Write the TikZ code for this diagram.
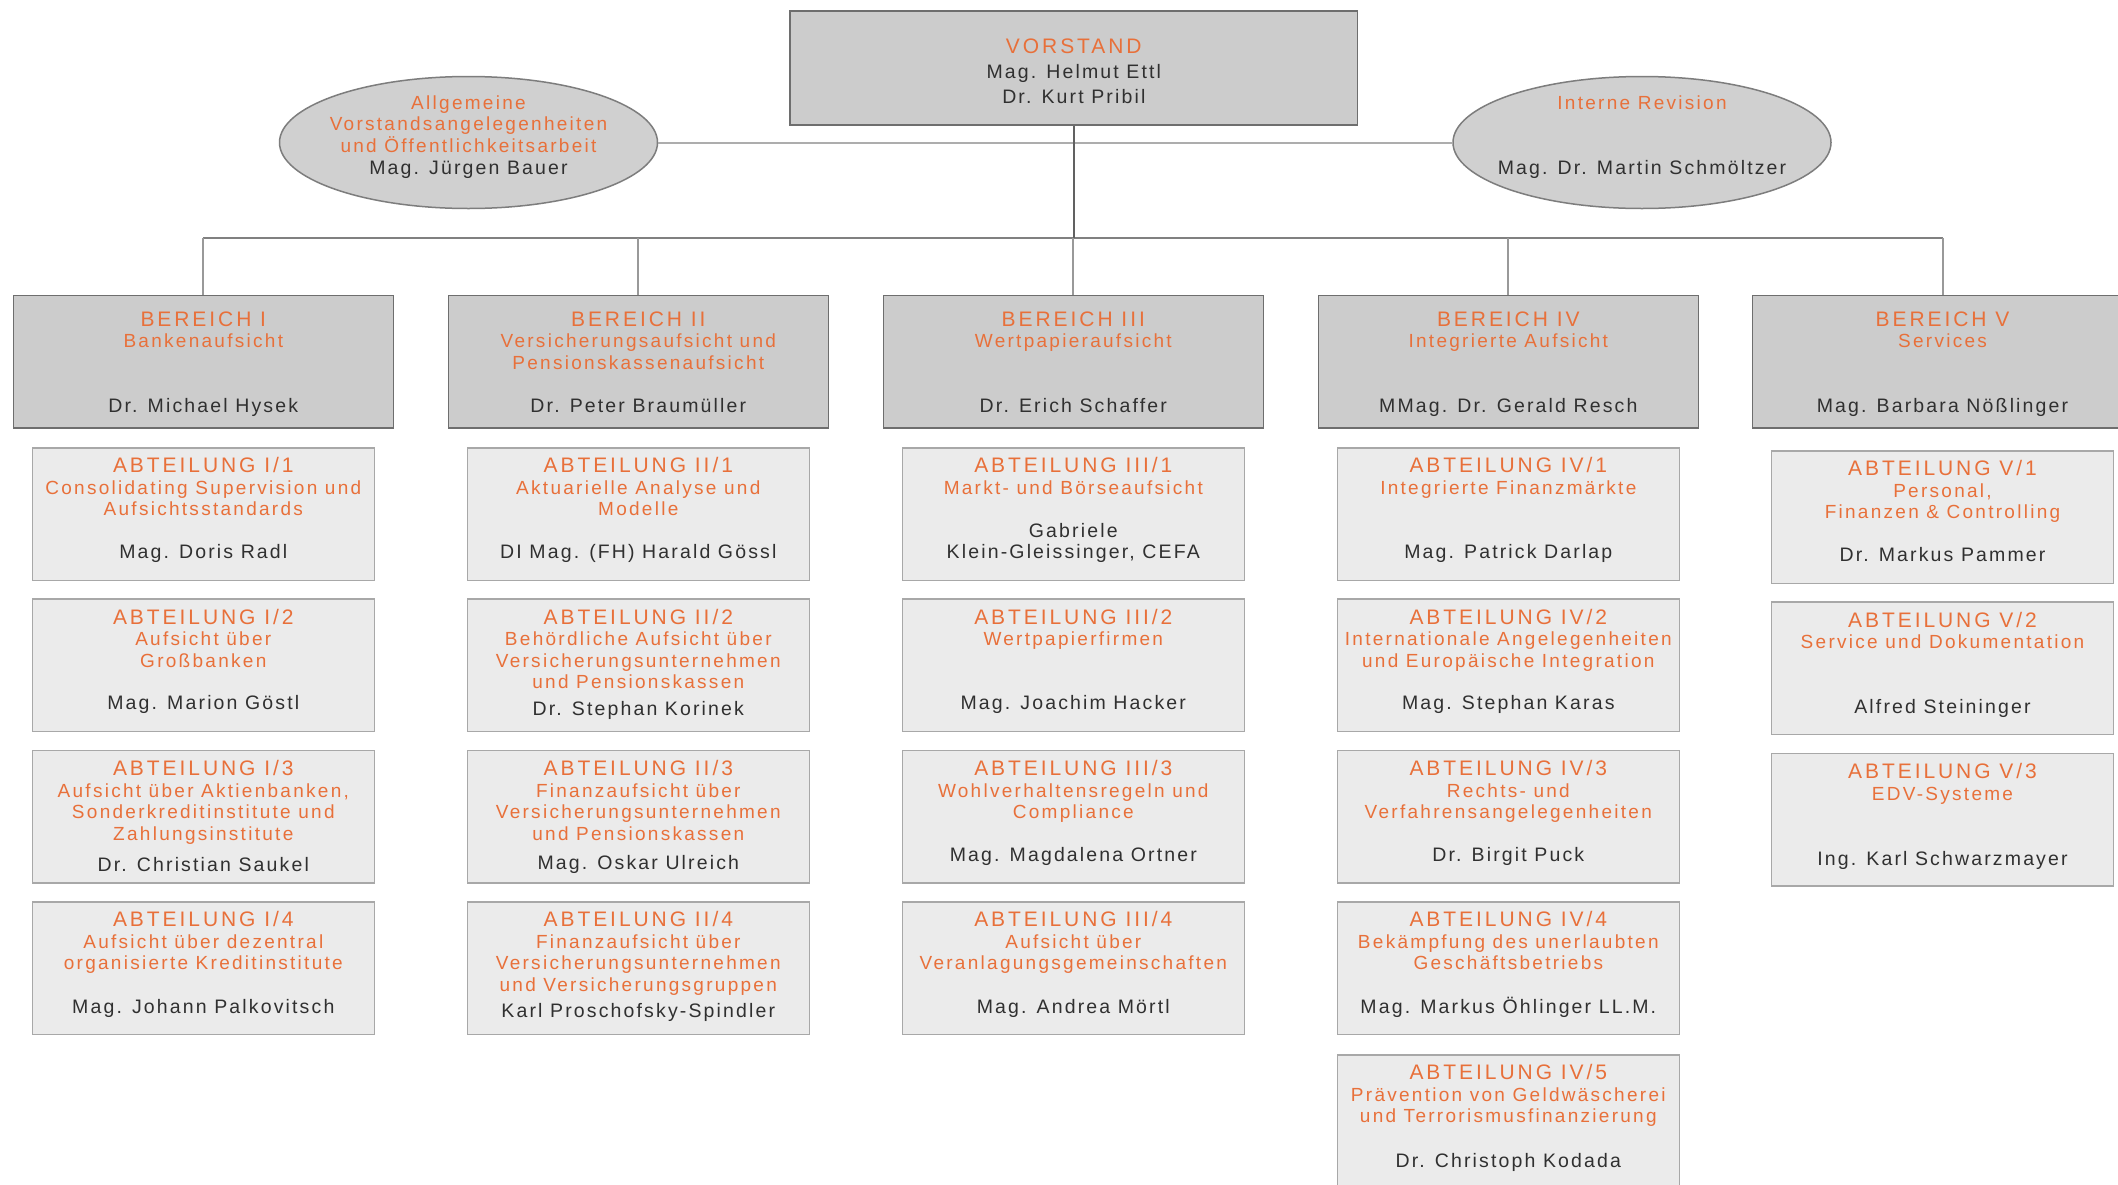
\documentclass[tikz,border=0pt]{standalone}
\usepackage{fontspec}
\setmainfont{Liberation Sans}[LetterSpace=12]
\newfontfamily\ttlfam{Liberation Sans}[LetterSpace=14]
\newfontfamily\subfam{Liberation Sans}[LetterSpace=12]
\newfontfamily\nmfam{Liberation Sans}[LetterSpace=11]
\usetikzlibrary{shapes.geometric}
\definecolor{orng}{HTML}{E8703A}
\definecolor{dtxt}{HTML}{303030}
\definecolor{berfill}{HTML}{CCCCCC}
\definecolor{berline}{HTML}{6E6E6E}
\definecolor{abtfill}{HTML}{EBEBEB}
\definecolor{abtline}{HTML}{A8A8A8}
\definecolor{elfill}{HTML}{D0D0D0}
\newcommand\ttlf{\ttlfam\fontsize{21}{24}\selectfont}
\newcommand\subf{\subfam\fontsize{19}{21.6}\selectfont}
\newcommand\nmf{\nmfam\fontsize{19.5}{22}\selectfont}
\tikzset{
  ttl/.style={text=orng, font=\ttlf, inner sep=0pt, text height=15pt, text depth=0pt},
  subt/.style={text=orng, font=\subf, inner sep=0pt, text height=11.8pt, text depth=0pt},
  nm/.style={text=dtxt, font=\nmf, inner sep=0pt, text height=12.1pt, text depth=0pt},
  abox/.style={draw=abtline, fill=abtfill, line width=1.5pt, minimum width=342, minimum height=132.5, inner sep=0pt, anchor=north},
  bbox/.style={draw=berline, fill=berfill, line width=1.5pt, minimum width=380, minimum height=132.5, inner sep=0pt, anchor=north},
  ell/.style={ellipse, draw=berline!90, fill=elfill, line width=1.5pt, minimum width=378, minimum height=132, inner sep=0pt},
  buslink/.style={draw=black!50, line width=2pt},
  droplink/.style={draw=black!40, line width=2pt},
  headlink/.style={draw=black!62, line width=2.5pt},
  elllink/.style={draw=black!32, line width=2pt}
}
% #1 id, #2 cx, #3 top, #4 title, #5-#7 subtitle lines, #8 name offset, #9 name
\newcommand\abt[9]{%
  \node[abox] (#1) at (#2,#3) {};
  \node[ttl] (#1-t) at (#2,#3+18.3) {#4};
  \ifx\relax#5\relax\else\node[subt] (#1-a) at (#2,#3+41.5) {#5};\fi
  \ifx\relax#6\relax\else\node[subt] (#1-b) at (#2,#3+63) {#6};\fi
  \ifx\relax#7\relax\else\node[subt] (#1-c) at (#2,#3+84.5) {#7};\fi
  \node[nm] (#1-n) at (#2,#3+#8) {#9};
}
% #1 id, #2 cx, #3 title, #4 sub1, #5 sub2, #6 name
\newcommand\ber[6]{%
  \node[bbox] (#1) at (#2,294.5) {};
  \node[ttl] (#1-t) at (#2,318.8) {#3};
  \node[subt] (#1-a) at (#2,341.8) {#4};
  \ifx\relax#5\relax\else\node[subt] (#1-b) at (#2,363.4) {#5};\fi
  \node[nm] (#1-n) at (#2,406.6) {#6};
}
\begin{document}
\begin{tikzpicture}[x=1pt,y=-1pt]
\useasboundingbox (0,0) rectangle (2118,1184);
\fill[white] (0,0) rectangle (2118,1184);

\def\ca{203.3}\def\cb{638.3}\def\cc{1073.3}\def\cd{1508.3}\def\ce{1942.5}
\def\ra{447}\def\rb{598.4}\def\rc{749.7}\def\rd{901}\def\re{1054}

% Vorstand and staff units
\node[draw=berline, fill=berfill, line width=1.5pt, minimum width=567.5, minimum height=114, inner sep=0pt, anchor=north] (vor) at (1073.8,10) {};
\node[ttl] (vor-t) at (1073.8,46) {VORSTAND};
\node[nm] (vor-a) at (1073.8,72) {Mag. Helmut Ettl};
\node[nm] (vor-b) at (1073.8,97) {Dr. Kurt Pribil};

\node[ell] (elA) at (468.5,142.5) {};
\node[ell] (elB) at (1642,142.5) {};

\coordinate (bus) at (1073.8,238);
\draw[elllink] (elA.east) -- (elB.west);

\node[subt] (elA-a) at (468.5,103.5) {Allgemeine};
\node[subt] (elA-b) at (468.5,125) {Vorstandsangelegenheiten};
\node[subt] (elA-c) at (468.5,146.5) {und Öffentlichkeitsarbeit};
\node[nm] (elA-n) at (468.5,168) {Mag. Jürgen Bauer};
\node[subt] (elB-a) at (1642,103.5) {Interne Revision};
\node[nm] (elB-n) at (1642,168) {Mag. Dr. Martin Schmöltzer};

% Bereiche
\ber{b1}{\ca}{BEREICH I}{Bankenaufsicht}{}{Dr. Michael Hysek}
\ber{b2}{\cb}{BEREICH II}{Versicherungsaufsicht und}{Pensionskassenaufsicht}{Dr. Peter Braumüller}
\ber{b3}{\cc}{BEREICH III}{Wertpapieraufsicht}{}{Dr. Erich Schaffer}
\ber{b4}{\cd}{BEREICH IV}{Integrierte Aufsicht}{}{MMag. Dr. Gerald Resch}
\ber{b5}{\ce}{BEREICH V}{Services}{}{Mag. Barbara Nößlinger}

\draw[buslink] (b1.north |- bus) -- (b5.north |- bus);
\foreach \b in {b1,b2,b3,b4,b5}{\draw[droplink] (\b.north |- bus) -- (\b.north);}
\draw[headlink] (vor.south) -- (vor.south |- bus);

% Abteilungen Bereich I
\abt{a11}{\ca}{\ra}{ABTEILUNG I/1}{Consolidating Supervision und}{Aufsichtsstandards}{}{105.5}{Mag. Doris Radl}
\abt{a12}{\ca}{\rb}{ABTEILUNG I/2}{Aufsicht über}{Großbanken}{}{105.5}{Mag. Marion Göstl}
\abt{a13}{\ca}{\rc}{ABTEILUNG I/3}{Aufsicht über Aktienbanken,}{Sonderkreditinstitute und}{Zahlungsinstitute}{116}{Dr. Christian Saukel}
\abt{a14}{\ca}{\rd}{ABTEILUNG I/4}{Aufsicht über dezentral}{organisierte Kreditinstitute}{}{106.7}{Mag. Johann Palkovitsch}
% Bereich II
\abt{a21}{\cb}{\ra}{ABTEILUNG II/1}{Aktuarielle Analyse und}{Modelle}{}{105.5}{DI Mag. (FH) Harald Gössl}
\abt{a22}{\cb}{\rb}{ABTEILUNG II/2}{Behördliche Aufsicht über}{Versicherungsunternehmen}{und Pensionskassen}{110.8}{Dr. Stephan Korinek}
\abt{a23}{\cb}{\rc}{ABTEILUNG II/3}{Finanzaufsicht über}{Versicherungsunternehmen}{und Pensionskassen}{113.5}{Mag. Oskar Ulreich}
\abt{a24}{\cb}{\rd}{ABTEILUNG II/4}{Finanzaufsicht über}{Versicherungsunternehmen}{und Versicherungsgruppen}{110.7}{Karl Proschofsky-Spindler}
% Bereich III
\abt{a31}{\cc}{\ra}{ABTEILUNG III/1}{Markt- und Börseaufsicht}{}{}{105.5}{Klein-Gleissinger, CEFA}
\node[nm] (a31-m) at (\cc,\ra+84) {Gabriele};
\abt{a32}{\cc}{\rb}{ABTEILUNG III/2}{Wertpapierfirmen}{}{}{105.5}{Mag. Joachim Hacker}
\abt{a33}{\cc}{\rc}{ABTEILUNG III/3}{Wohlverhaltensregeln und}{Compliance}{}{105.3}{Mag. Magdalena Ortner}
\abt{a34}{\cc}{\rd}{ABTEILUNG III/4}{Aufsicht über}{Veranlagungsgemeinschaften}{}{106.7}{Mag. Andrea Mörtl}
% Bereich IV
\abt{a41}{\cd}{\ra}{ABTEILUNG IV/1}{Integrierte Finanzmärkte}{}{}{105.5}{Mag. Patrick Darlap}
\abt{a42}{\cd}{\rb}{ABTEILUNG IV/2}{Internationale Angelegenheiten}{und Europäische Integration}{}{105.5}{Mag. Stephan Karas}
\abt{a43}{\cd}{\rc}{ABTEILUNG IV/3}{Rechts- und}{Verfahrensangelegenheiten}{}{105.3}{Dr. Birgit Puck}
\abt{a44}{\cd}{\rd}{ABTEILUNG IV/4}{Bekämpfung des unerlaubten}{Geschäftsbetriebs}{}{106.7}{Mag. Markus Öhlinger LL.M.}
\abt{a45}{\cd}{\re}{ABTEILUNG IV/5}{Prävention von Geldwäscherei}{und Terrorismusfinanzierung}{}{107.5}{Dr. Christoph Kodada}
% Bereich V
\abt{a51}{\ce}{450}{ABTEILUNG V/1}{Personal,}{Finanzen \& Controlling}{}{105.2}{Dr. Markus Pammer}
\abt{a52}{\ce}{601.3}{ABTEILUNG V/2}{Service und Dokumentation}{}{}{106.5}{Alfred Steininger}
\abt{a53}{\ce}{752.6}{ABTEILUNG V/3}{EDV-Systeme}{}{}{106.5}{Ing. Karl Schwarzmayer}
\end{tikzpicture}
\end{document}
